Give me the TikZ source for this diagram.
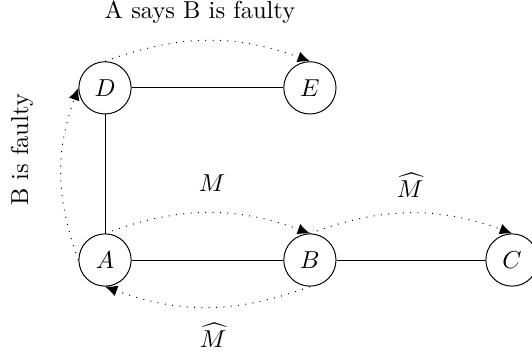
\documentclass[tikz,border=0pt]{standalone}
\usetikzlibrary{arrows.meta}

\begin{document}
\begin{tikzpicture}[proc/.style={draw,circle,minimum size=0.75cm,inner sep=0pt},
  msg/.style={dash pattern=on 0.4pt off 2.6pt,-{Latex[length=5pt,width=4.5pt]},bend left=20}]
\useasboundingbox (-1.507,-1.349) rectangle (6.127,3.731);
\node[proc] (A) at (0,0) {$A$}; \node[proc] (B) at (2.94,0) {$B$}; \node[proc] (C) at (5.84,0) {$C$};
\node[proc] (D) at (0,2.47) {$D$}; \node[proc] (E) at (2.94,2.47) {$E$};
\draw (A)--(B)--(C); \draw (A)--(D)--(E);
\draw[msg] (A.north) to (B.north);
\draw[msg] (B.north) to (C.north);
\draw[msg] (B.south) to (A.south);
\draw[msg] (A.west) to (D.west);
\draw[msg] (D.north) to (E.north);
\node (m1) at (1.535,1.105) {$M$};
\node (m2) at (4.377,1.076) {$\widehat{M}$};
\node (m3) at (1.55,-1.076) {$\widehat{M}$};
\node (says) at (1.363,3.56) {A says B is faulty};
\node[rotate=90] (faulty) at (-1.19,1.58) {B is faulty};
\end{tikzpicture}
\end{document}
